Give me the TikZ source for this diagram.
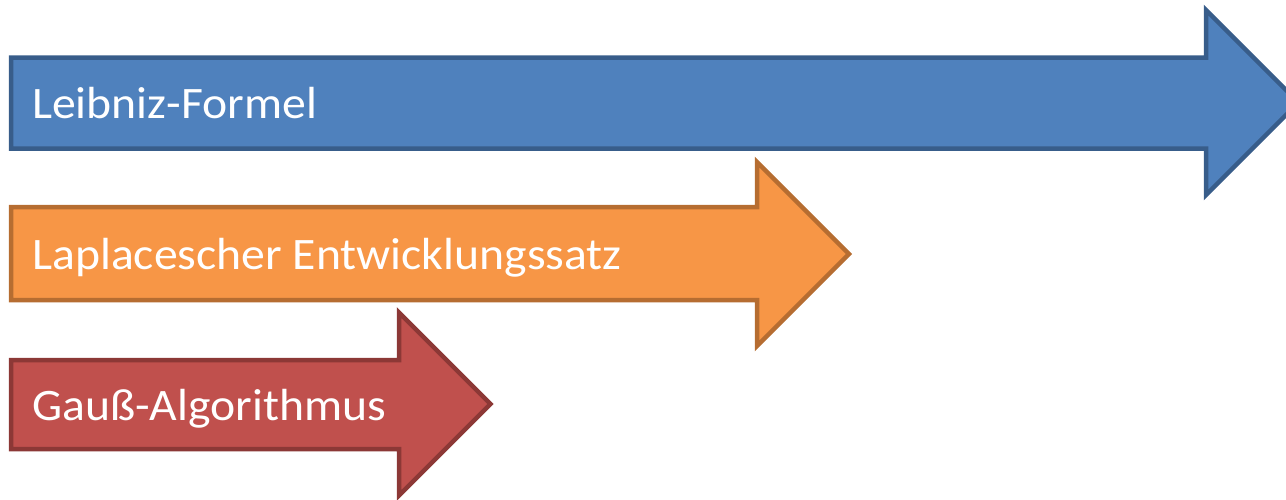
\documentclass[tikz,border=0pt]{standalone}
\usepackage{fontspec}
\setmainfont{Carlito}[FakeStretch=1.06]
\definecolor{bfill}{HTML}{4F81BD}
\definecolor{bline}{HTML}{385D8A}
\definecolor{ofill}{HTML}{F79646}
\definecolor{oline}{HTML}{B66D31}
\definecolor{rfill}{HTML}{C0504D}
\definecolor{rline}{HTML}{8C3836}
\tikzset{
  arrowshape/.style={line width=4.5pt, line join=miter, miter limit=10},
  label/.style={anchor=base west, text=white, font=\fontsize{45}{54}\selectfont, inner sep=0pt}
}
\begin{document}
\begin{tikzpicture}[x=1pt,y=-1pt]
\useasboundingbox (0,0) rectangle (1286,499);
\clip (0,0) rectangle (1286,499);
% blue arrow
\draw[arrowshape, fill=bfill, draw=bline]
  (11,57.5) -- (1206,57.5) -- (1206,10) -- (1298.5,102.5) -- (1206,195) -- (1206,148.5) -- (11,148.5) -- cycle;
% orange arrow
\draw[arrowshape, fill=ofill, draw=oline]
  (11,207) -- (757,207) -- (757,162) -- (849,254) -- (757,346) -- (757,300) -- (11,300) -- cycle;
% red arrow
\draw[arrowshape, fill=rfill, draw=rline]
  (11,360) -- (399,360) -- (399,312.5) -- (490.5,404) -- (399,495.5) -- (399,449) -- (11,449) -- cycle;
\node[label] (t1) at (32,118) {Leibniz-Formel};
\node[label] (t2) at (32,269) {Laplacescher Entwicklungssatz};
\node[label] (t3) at (32,420) {Gauß-Algorithmus};
\end{tikzpicture}
\end{document}
